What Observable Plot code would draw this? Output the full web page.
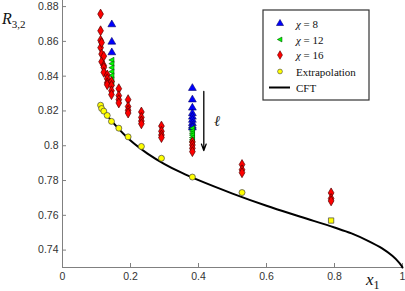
<!DOCTYPE html>
<html>
<head>
<meta charset="utf-8">
<script src="https://cdn.jsdelivr.net/npm/d3@7"></script>
<script src="https://cdn.jsdelivr.net/npm/@observablehq/plot@0.6"></script>
<style>
  body { margin: 0; background: #fff; }
  #wrap { position: relative; width: 405px; height: 291px; overflow: hidden; }
  .lab { position: absolute; font-family: "Liberation Serif", "DejaVu Serif", serif; color: #111; white-space: nowrap; }
</style>
</head>
<body>
<div id="wrap"></div>
<script>
// ---- data ----
const xTicks = [0, 0.2, 0.4, 0.6, 0.8, 1];
const yTicks = [0.74, 0.76, 0.78, 0.8, 0.82, 0.84, 0.86, 0.88];

// Extrapolation (yellow)
const extrapX = [0.112, 0.115, 0.1215, 0.1315, 0.144, 0.1656, 0.193, 0.232, 0.291, 0.382, 0.528, 0.790];
const extrapY = [0.8233, 0.8214, 0.8199, 0.8174, 0.8140, 0.8101, 0.8051, 0.7996, 0.7928, 0.7820, 0.7731, 0.7570];

// chi = 8 (blue)
const chi8X = [0.145, 0.145, 0.145, 0.382, 0.382, 0.382, 0.382, 0.382, 0.382, 0.382, 0.382, 0.382];
const chi8Y = [0.8697, 0.8597, 0.8536, 0.8331, 0.8265, 0.8218, 0.8186, 0.8166, 0.8148, 0.8129, 0.8114, 0.8104];

// chi = 12 (green)
const chi12X = [0.145, 0.145, 0.145, 0.145, 0.145, 0.145, 0.145, 0.382, 0.382, 0.382, 0.382, 0.382, 0.382, 0.382];
const chi12Y = [0.8493, 0.8472, 0.8449, 0.8426, 0.8404, 0.8381, 0.8358, 0.8100, 0.8085, 0.8072, 0.8061, 0.8047, 0.8034, 0.8022];

// chi = 16 (red)
const chi16X = [0.112, 0.112, 0.112, 0.112, 0.115, 0.115, 0.115, 0.1215, 0.1215, 0.1215, 0.1215,
  0.1315, 0.1315, 0.1315, 0.1315, 0.144, 0.144, 0.144, 0.144, 0.1656, 0.1656, 0.1656, 0.1656,
  0.193, 0.193, 0.193, 0.193, 0.232, 0.232, 0.232, 0.232, 0.291, 0.291, 0.291, 0.291,
  0.382, 0.382, 0.382, 0.382, 0.528, 0.528, 0.528, 0.790, 0.790, 0.790];
const chi16Y = [0.8757, 0.8661, 0.8606, 0.8564, 0.8593, 0.8527, 0.8483, 0.8515, 0.8460, 0.8450, 0.8422,
  0.8407, 0.8385, 0.8362, 0.8351, 0.8369, 0.8347, 0.8316, 0.8294, 0.8328, 0.8288, 0.8265, 0.8246,
  0.8265, 0.8225, 0.8204, 0.8188, 0.8194, 0.8163, 0.8142, 0.8126, 0.8113, 0.8083, 0.8062, 0.8047,
  0.8022, 0.8004, 0.7985, 0.7966, 0.7892, 0.7862, 0.7845, 0.7729, 0.7697, 0.7683];

// CFT curve
const cftX = [0.11, 0.15, 0.2, 0.25, 0.3, 0.35, 0.4, 0.5, 0.6, 0.7, 0.8, 0.85, 0.9, 0.94, 0.97, 0.99, 0.997, 1.0];
const cftY = [0.8227, 0.8130, 0.8030, 0.7955, 0.7895, 0.7845, 0.7802, 0.7725, 0.7655, 0.7592, 0.7530, 0.7496, 0.7452, 0.7410, 0.7367, 0.7328, 0.7310, 0.7300];

// arrow (decreasing l) and its label
const arrowX = [0.4156];
const arrowY = [0.8312, 0.7972];
const ellLabel = {x: 0.455, y: 0.8142, text: "ℓ"};

const legendLabels = ["χ = 8", "χ = 12", "χ = 16", "Extrapolation", "CFT"];

// ---- tables ----
const zip = (xs, ys) => xs.map((x, i) => ({x, y: ys[i]}));
const extrap = zip(extrapX, extrapY);
const chi8 = zip(chi8X, chi8Y);
const chi12 = zip(chi12X, chi12Y);
const chi16 = zip(chi16X, chi16Y);
const cft = zip(cftX, cftY);

const triLeft = {
  draw(ctx, size) {
    const r = Math.sqrt(size / Math.PI);
    ctx.moveTo(-r * 1.1, 0);
    ctx.lineTo(r * 0.8, -r * 1.0);
    ctx.lineTo(r * 0.8, r * 1.0);
    ctx.closePath();
  }
};

const fmt = d => String(+d.toFixed(2));
const axisColor = "#808080";

const chart = Plot.plot({
  width: 405,
  height: 291,
  marginLeft: 62,
  marginRight: 3,
  marginTop: 0,
  marginBottom: 24,
  x: {domain: [0, 1], label: null},
  y: {domain: [0.73, 0.8835], label: null},
  style: {fontFamily: "'Liberation Sans', Arial, sans-serif", fontSize: "10px", color: "#333"},
  marks: [
    Plot.ruleX([0], {stroke: axisColor}),
    Plot.ruleY([0.73], {stroke: axisColor}),
    Plot.axisY(yTicks, {tickSize: 0, tickPadding: 4, tickFormat: fmt, fill: "#333", fontSize: 10.5, label: null}),
    Plot.axisY(yTicks, {tickSize: -4, text: null, stroke: axisColor, label: null}),
    Plot.axisX(xTicks, {tickSize: 0, tickPadding: 5, tickFormat: fmt, fill: "#333", fontSize: 10.5, label: null}),
    Plot.axisX(xTicks, {tickSize: -4, text: null, stroke: axisColor, label: null}),
    Plot.line(cft, {x: "x", y: "y", curve: "catmull-rom", stroke: "#000", strokeWidth: 2}),
    Plot.arrow([{x: arrowX[0], y1: arrowY[0], y2: arrowY[1]}], {x: "x", y1: "y1", y2: "y2", stroke: "#000", strokeWidth: 1.3, headLength: 8, headAngle: 40}),
    Plot.text([ellLabel], {x: "x", y: "y", text: "text", fontFamily: "'Liberation Serif', serif", fontStyle: "italic", fontSize: 15, fill: "#222"}),
    Plot.dot(chi8, {x: "x", y: "y", symbol: "triangle", r: 2.9, fill: "#0000ff", stroke: "#000066", strokeWidth: 0.6}),
    Plot.dot(chi12, {x: "x", y: "y", symbol: triLeft, r: 2.7, fill: "#00ff00", stroke: "#005500", strokeWidth: 0.6}),
    Plot.dot(chi16, {x: "x", y: "y", symbol: "diamond", r: 3.0, fill: "#ff0000", stroke: "#550000", strokeWidth: 0.7}),
    Plot.dot(extrap.slice(0, -1), {x: "x", y: "y", symbol: "circle", r: 3, fill: "#ffff00", stroke: "#444", strokeWidth: 0.7}),
    Plot.dot(extrap.slice(-1), {x: "x", y: "y", symbol: "square", r: 3, fill: "#ffff00", stroke: "#444", strokeWidth: 0.7})
  ]
});

const wrap = document.getElementById("wrap");
wrap.appendChild(chart);

// legend box
const leg = d3.create("svg").attr("width", 108).attr("height", 92)
  .style("position", "absolute").style("left", "262px").style("top", "9px");
leg.append("rect").attr("x", 1).attr("y", 1).attr("width", 106).attr("height", 90)
  .attr("fill", "#fff").attr("stroke", "#333").attr("stroke-width", 1.2);
const rowY = [14.5, 30.5, 46, 62.5, 78.5];
const symbols = [
  {type: d3.symbolTriangle, fill: "#0000ff", stroke: "#000066", r: 2.6},
  {type: triLeft, fill: "#00ff00", stroke: "#005500", r: 2.4},
  {type: d3.symbolDiamond, fill: "#ff0000", stroke: "#550000", r: 2.6},
  {type: d3.symbolCircle, fill: "#ffff00", stroke: "#444", r: 2.4}
];
symbols.forEach((s, i) => {
  leg.append("path").attr("d", d3.symbol(s.type, Math.PI * s.r * s.r)())
    .attr("transform", `translate(18,${rowY[i]})`)
    .attr("fill", s.fill).attr("stroke", s.stroke).attr("stroke-width", 0.6);
});
leg.append("line").attr("x1", 7).attr("x2", 28).attr("y1", rowY[4]).attr("y2", rowY[4])
  .attr("stroke", "#000").attr("stroke-width", 2);
legendLabels.forEach((t, i) => {
  const tx = leg.append("text").attr("x", 34).attr("y", rowY[i] + 4)
    .attr("font-family", "'Liberation Serif', 'DejaVu Serif', serif").attr("font-size", 11).attr("fill", "#111");
  if (t.startsWith("χ")) {
    tx.append("tspan").attr("font-style", "italic").text("χ");
    tx.append("tspan").text(t.slice(1));
  } else tx.text(t);
});
wrap.appendChild(leg.node());

// axis titles
const yl = document.createElement("div");
yl.className = "lab";
yl.style.left = "2px"; yl.style.top = "10px"; yl.style.fontSize = "16px";
yl.innerHTML = '<i>R</i><span style="font-size:11px;position:relative;top:4px">3,2</span>';
wrap.appendChild(yl);

const xl = document.createElement("div");
xl.className = "lab";
xl.style.left = "366px"; xl.style.top = "270px"; xl.style.fontSize = "17px";
xl.innerHTML = '<i>x</i><span style="font-size:12px;position:relative;top:4px">1</span>';
wrap.appendChild(xl);
</script>
</body>
</html>
